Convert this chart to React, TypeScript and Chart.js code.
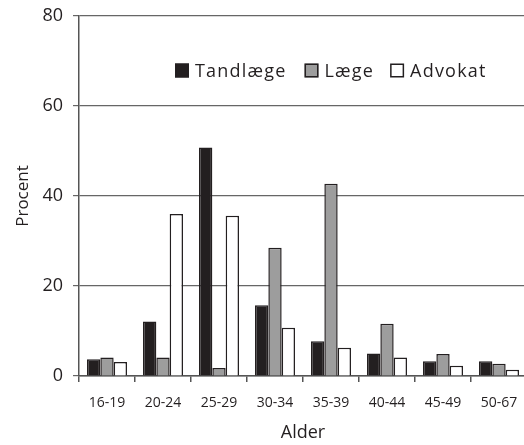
import React, { useEffect, useRef } from "react";
import { Chart, registerables } from "chart.js";

Chart.register(...registerables);

const categories = ["16-19", "20-24", "25-29", "30-34", "35-39", "40-44", "45-49", "50-67"];
const seriesNames = ["Tandlæge", "Læge", "Advokat"];
const tandlaege = [3.7, 12.1, 50.8, 15.7, 7.7, 5.0, 3.3, 3.3];
const laege = [4.1, 4.1, 1.8, 28.5, 42.7, 11.6, 4.9, 2.7];
const advokat = [3.1, 36.0, 35.6, 10.7, 6.3, 4.1, 2.3, 1.4];
const yMin = 0;
const yMax = 80;
const yStep = 20;
const xTitle = "Alder";
const yTitle = "Procent";

const fills = ["#231f20", "#9d9d9d", "#ffffff"];
const edge = "#231f20";
const FONT = "'Open Sans', sans-serif";

const legendPlugin = {
  id: "innerLegend",
  afterDraw(chart: any) {
    const ctx = chart.ctx;
    const area = chart.chartArea;
    ctx.save();
    ctx.font = `18px ${FONT}`;
    (ctx as any).letterSpacing = "1.2px";
    ctx.textBaseline = "middle";
    ctx.textAlign = "left";
    let x = area.left + 96;
    const cy = 70.5;
    const box = 14;
    chart.data.datasets.forEach((ds: any, i: number) => {
      ctx.fillStyle = ds.backgroundColor;
      ctx.strokeStyle = edge;
      ctx.lineWidth = 1.5;
      ctx.fillRect(x, cy - box / 2, box, box);
      ctx.strokeRect(x + 0.75, cy - box / 2 + 0.75, box - 1.5, box - 1.5);
      x += box + 6;
      ctx.fillStyle = "#231f20";
      ctx.fillText(ds.label, x, cy + 1);
      x += ctx.measureText(ds.label).width + (i === 0 ? 18 : 16);
    });
    ctx.restore();
  },
};

export default function App() {
  const ref = useRef<HTMLCanvasElement | null>(null);
  useEffect(() => {
    if (!ref.current) return;
    const data = [tandlaege, laege, advokat];
    const chart = new Chart(ref.current, {
      type: "bar",
      data: {
        labels: categories,
        datasets: seriesNames.map((name, i) => ({
          label: name,
          data: data[i],
          backgroundColor: fills[i],
          borderColor: edge,
          borderWidth: 1.5,
          categoryPercentage: 0.714,
          barPercentage: 1,
        })),
      },
      options: {
        animation: false,
        responsive: false,
        devicePixelRatio: 1,
        layout: { padding: { top: 16, right: 0, left: 0, bottom: 0 } },
        plugins: { legend: { display: false }, tooltip: { enabled: false } },
        scales: {
          x: {
            offset: true,
            grid: { display: true, drawOnChartArea: false, offset: true, tickLength: 6, color: "#555", lineWidth: 1.5 },
            border: { display: true, color: "#555", width: 1.5 },
            ticks: { color: "#231f20", font: { family: FONT, size: 14 }, padding: 13, maxRotation: 0 },
            title: { display: true, text: xTitle, color: "#231f20", font: { family: FONT, size: 18 }, padding: { top: 0, bottom: 1 } },
            afterFit(scale: any) {
              scale.height = 69;
              scale.paddingLeft = 0;
              scale.paddingRight = 0;
            },
          },
          y: {
            min: yMin,
            max: yMax,
            ticks: { stepSize: yStep, color: "#231f20", font: { family: FONT, size: 18 }, padding: 10 },
            grid: { color: "#666", lineWidth: 1.2, tickLength: 6 },
            border: { display: true, color: "#555", width: 1.5 },
            title: { display: true, text: yTitle, color: "#231f20", font: { family: FONT, size: 17 }, padding: { top: 13, bottom: 0 } },
            afterFit(scale: any) {
              scale.width = 79;
              scale.paddingTop = 0;
              scale.paddingBottom = 0;
            },
          },
        },
      },
      plugins: [legendPlugin],
    });
    return () => chart.destroy();
  }, []);
  return (
    <div style={{ position: "fixed", left: 0, top: 0, width: 524, height: 445, overflow: "hidden", background: "#fff" }}>
      <canvas ref={ref} width={527} height={445} style={{ width: 527, height: 445, display: "block" }} />
    </div>
  );
}
